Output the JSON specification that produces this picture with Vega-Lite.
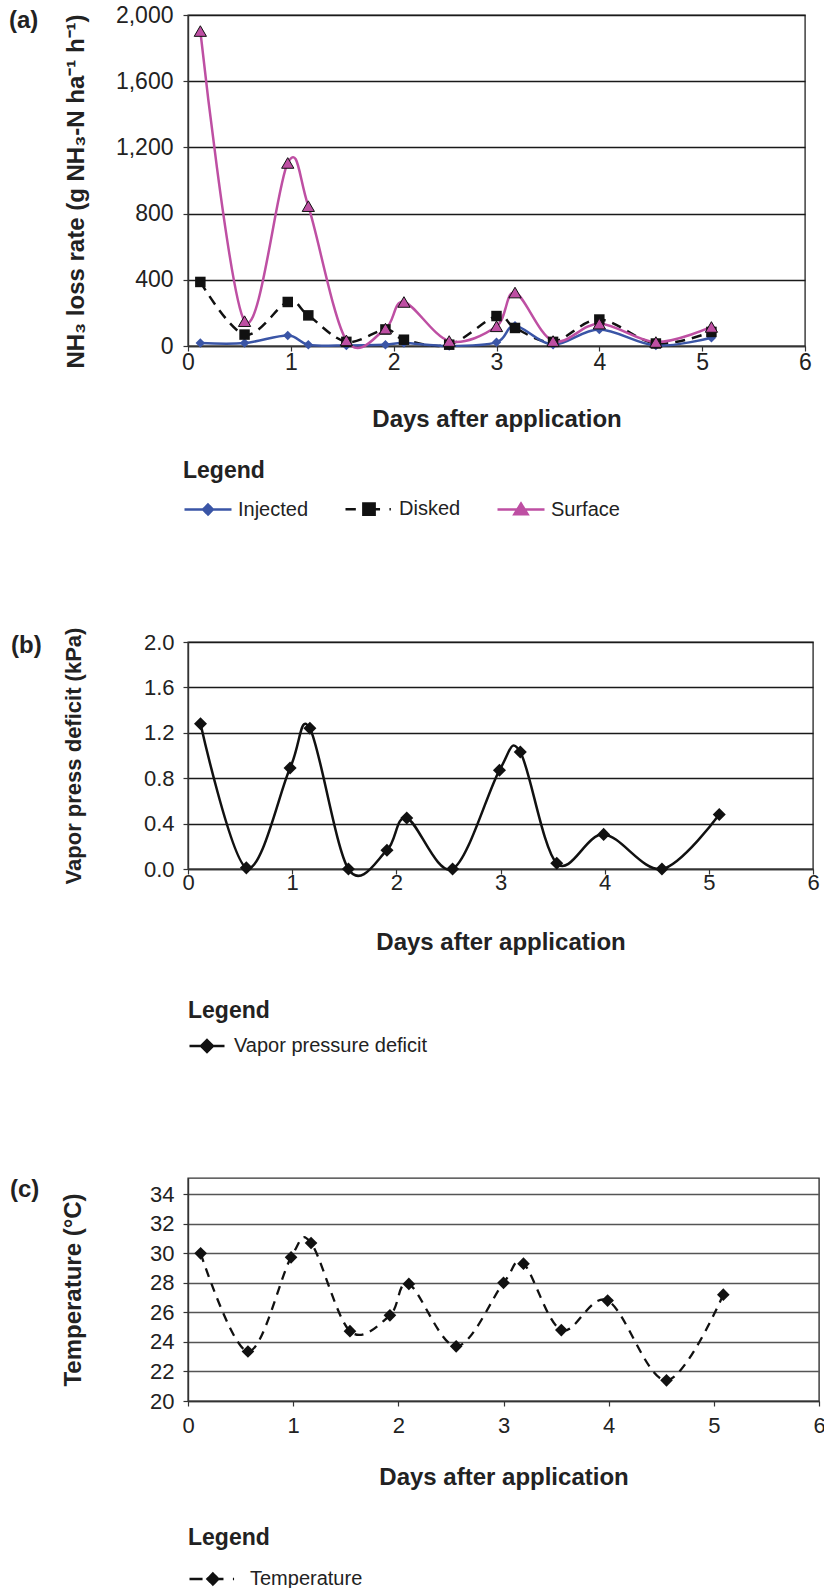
{
  "$schema": "https://vega.github.io/schema/vega-lite/v6.json",
  "padding": {"left": 8, "top": 3, "right": 5, "bottom": 0},
  "background": "white",
  "config": {
    "font": "Liberation Sans",
    "view": {"stroke": "#333", "strokeWidth": 1.4},
    "axis": {"domainColor": "#333", "tickColor": "#333", "labelColor": "#222", "titleColor": "#222", "labelFont": "Liberation Sans", "titleFont": "Liberation Sans", "labelFlush": false, "labelOverlap": false, "domainWidth": 1.4, "tickWidth": 1.2},
    "legend": {"labelFont": "Liberation Sans", "titleFont": "Liberation Sans", "labelLimit": 400}
  },
  "datasets": {
    "nh3": [
      {"series": "Injected", "day": 0.12, "rate": 18},
      {"series": "Injected", "day": 0.55, "rate": 18},
      {"series": "Injected", "day": 0.97, "rate": 63},
      {"series": "Injected", "day": 1.17, "rate": 8},
      {"series": "Injected", "day": 1.54, "rate": 3},
      {"series": "Injected", "day": 1.92, "rate": 8},
      {"series": "Injected", "day": 2.10, "rate": 18},
      {"series": "Injected", "day": 2.54, "rate": 0},
      {"series": "Injected", "day": 3.00, "rate": 22},
      {"series": "Injected", "day": 3.18, "rate": 122},
      {"series": "Injected", "day": 3.55, "rate": 8},
      {"series": "Injected", "day": 4.00, "rate": 100},
      {"series": "Injected", "day": 4.55, "rate": 3},
      {"series": "Injected", "day": 5.09, "rate": 50},
      {"series": "Disked", "day": 0.12, "rate": 387},
      {"series": "Disked", "day": 0.55, "rate": 69},
      {"series": "Disked", "day": 0.97, "rate": 266},
      {"series": "Disked", "day": 1.17, "rate": 185},
      {"series": "Disked", "day": 1.54, "rate": 25},
      {"series": "Disked", "day": 1.92, "rate": 100},
      {"series": "Disked", "day": 2.10, "rate": 38},
      {"series": "Disked", "day": 2.54, "rate": 8},
      {"series": "Disked", "day": 3.00, "rate": 181},
      {"series": "Disked", "day": 3.18, "rate": 109},
      {"series": "Disked", "day": 3.55, "rate": 25},
      {"series": "Disked", "day": 4.00, "rate": 160},
      {"series": "Disked", "day": 4.55, "rate": 15},
      {"series": "Disked", "day": 5.09, "rate": 85},
      {"series": "Surface", "day": 0.12, "rate": 1903},
      {"series": "Surface", "day": 0.55, "rate": 150},
      {"series": "Surface", "day": 0.97, "rate": 1106},
      {"series": "Surface", "day": 1.17, "rate": 845},
      {"series": "Surface", "day": 1.54, "rate": 34},
      {"series": "Surface", "day": 1.92, "rate": 105},
      {"series": "Surface", "day": 2.10, "rate": 266},
      {"series": "Surface", "day": 2.54, "rate": 30},
      {"series": "Surface", "day": 3.00, "rate": 119},
      {"series": "Surface", "day": 3.18, "rate": 323},
      {"series": "Surface", "day": 3.55, "rate": 30},
      {"series": "Surface", "day": 4.00, "rate": 135},
      {"series": "Surface", "day": 4.55, "rate": 24},
      {"series": "Surface", "day": 5.09, "rate": 115}
    ],
    "vpd": [
      {"series": "Vapor pressure deficit", "day": 0.12, "kpa": 1.28},
      {"series": "Vapor pressure deficit", "day": 0.56, "kpa": 0.01},
      {"series": "Vapor pressure deficit", "day": 0.98, "kpa": 0.89},
      {"series": "Vapor pressure deficit", "day": 1.17, "kpa": 1.24},
      {"series": "Vapor pressure deficit", "day": 1.54, "kpa": 0.0},
      {"series": "Vapor pressure deficit", "day": 1.91, "kpa": 0.165},
      {"series": "Vapor pressure deficit", "day": 2.10, "kpa": 0.45},
      {"series": "Vapor pressure deficit", "day": 2.54, "kpa": 0.0},
      {"series": "Vapor pressure deficit", "day": 2.99, "kpa": 0.87},
      {"series": "Vapor pressure deficit", "day": 3.19, "kpa": 1.03},
      {"series": "Vapor pressure deficit", "day": 3.54, "kpa": 0.05},
      {"series": "Vapor pressure deficit", "day": 3.99, "kpa": 0.305},
      {"series": "Vapor pressure deficit", "day": 4.55, "kpa": 0.0},
      {"series": "Vapor pressure deficit", "day": 5.10, "kpa": 0.48}
    ],
    "temp": [
      {"series": "Temperature", "day": 0.12, "celsius": 30.0},
      {"series": "Temperature", "day": 0.57, "celsius": 23.35},
      {"series": "Temperature", "day": 0.98, "celsius": 29.73},
      {"series": "Temperature", "day": 1.17, "celsius": 30.7},
      {"series": "Temperature", "day": 1.54, "celsius": 24.73},
      {"series": "Temperature", "day": 1.92, "celsius": 25.8},
      {"series": "Temperature", "day": 2.10, "celsius": 27.93},
      {"series": "Temperature", "day": 2.55, "celsius": 23.7},
      {"series": "Temperature", "day": 3.00, "celsius": 28.0},
      {"series": "Temperature", "day": 3.19, "celsius": 29.3},
      {"series": "Temperature", "day": 3.55, "celsius": 24.8},
      {"series": "Temperature", "day": 3.99, "celsius": 26.8},
      {"series": "Temperature", "day": 4.55, "celsius": 21.4},
      {"series": "Temperature", "day": 5.09, "celsius": 27.2}
    ]
  },
  "resolve": {
    "scale": {"x": "independent", "y": "independent", "color": "independent"},
    "legend": {"color": "independent"}
  },
  "spacing": 105,
  "vconcat": [
    {
      "width": 617,
      "height": 331,
      "title": {"text": "(a)", "anchor": "start", "frame": "group", "orient": "top", "offset": -41, "dx": -179, "baseline": "middle", "fontSize": 24, "fontWeight": "bold", "font": "Liberation Sans", "color": "#222"},
      "data": {"name": "nh3"},
      "encoding": {
        "x": {"field": "day", "type": "quantitative", "scale": {"domain": [0, 6], "nice": false},
          "axis": {"values": [0, 1, 2, 3, 4, 5, 6], "tickCount": 7, "format": "d", "title": "Days after application", "titleFontSize": 24, "titleFontWeight": "bold", "titlePadding": 33, "labelFontSize": 23, "labelPadding": 0, "tickSize": 5, "grid": false}},
        "y": {"field": "rate", "type": "quantitative", "scale": {"domain": [0, 2000], "nice": false},
          "axis": {"values": [0, 400, 800, 1200, 1600, 2000], "tickCount": 6, "format": ",d", "title": "NH₃ loss rate (g NH₃-N ha⁻¹ h⁻¹)", "titleFontSize": 24, "titleFontWeight": "bold", "titlePadding": 27, "titleY": 176, "labelFontSize": 23, "labelPadding": 10, "tickSize": 5, "grid": true, "gridColor": "#1a1a1a", "gridWidth": 1.3}}
      },
      "layer": [
        {
          "transform": [{"filter": "datum.series === 'Disked'"}],
          "mark": {"type": "line", "interpolate": "cardinal", "strokeWidth": 2.5, "strokeDash": [10, 7]},
          "encoding": {
            "color": {"field": "series", "type": "nominal", "scale": {"domain": ["Injected", "Disked", "Surface"], "range": ["#3A55A6", "#111111", "#BE4FA3"]},
              "legend": {"orient": "none", "legendX": -5, "legendY": 445, "direction": "horizontal", "title": "Legend", "titleFontSize": 23, "titleFontWeight": "bold", "titleColor": "#222", "titlePadding": 1, "labelFontSize": 20, "labelColor": "#222", "labelOffset": 5, "columnPadding": 31, "symbolSize": 2209,
                "encode": {"symbols": {"update": {
                  "shape": {"signal": "datum.value === 'Injected' ? 'M-1,0H1M0,-0.21L0.21,0L0,0.21L-0.21,0Z' : datum.value === 'Disked' ? 'M-1,0H-0.56M-0.24,-0.24H0.24V0.24H-0.24ZM0.24,0H0.47M0.87,0H0.93' : 'M-1,0H1M0,-0.25L0.28,0.2L-0.28,0.2Z'"},
                  "size": {"value": 2209},
                  "fill": {"signal": "datum.value === 'Injected' ? '#3A55A6' : datum.value === 'Disked' ? '#111111' : '#BE4FA3'"},
                  "stroke": {"signal": "datum.value === 'Injected' ? '#3A55A6' : datum.value === 'Disked' ? '#111111' : '#BE4FA3'"},
                  "strokeWidth": {"value": 2.5},
                  "strokeDash": {"value": [1, 0]},
                  "opacity": {"value": 1}
                }}}}}
          }
        },
        {
          "transform": [{"filter": "datum.series !== 'Disked'"}],
          "mark": {"type": "line", "interpolate": "cardinal", "strokeWidth": 2.5},
          "encoding": {
            "color": {"field": "series", "type": "nominal", "legend": null}
          }
        },
        {
          "transform": [{"filter": "datum.series === 'Injected'"}],
          "mark": {"type": "point", "filled": true, "opacity": 1, "shape": "diamond", "size": 90},
          "encoding": {
            "color": {"field": "series", "type": "nominal", "legend": null}
          }
        },
        {
          "transform": [{"filter": "datum.series === 'Disked'"}],
          "mark": {"type": "point", "filled": true, "opacity": 1, "shape": "square", "size": 110},
          "encoding": {
            "color": {"field": "series", "type": "nominal", "legend": null}
          }
        },
        {
          "transform": [{"filter": "datum.series === 'Surface'"}],
          "mark": {"type": "point", "filled": true, "opacity": 1, "shape": "triangle-up", "size": 150, "stroke": "#111111", "strokeWidth": 1},
          "encoding": {
            "fill": {"field": "series", "type": "nominal", "scale": {"domain": ["Surface"], "range": ["#BE4FA3"]}, "legend": null}
          }
        }
      ]
    },
    {
      "resolve": {
        "scale": {"x": "independent", "y": "independent", "color": "independent"},
        "legend": {"color": "independent"}
      },
      "spacing": 119,
      "vconcat": [
        {
          "width": 625,
          "height": 227,
          "title": {"text": "(b)", "anchor": "start", "frame": "group", "orient": "top", "offset": -43, "dx": -177, "baseline": "middle", "fontSize": 24, "fontWeight": "bold", "font": "Liberation Sans", "color": "#222"},
          "data": {"name": "vpd"},
          "encoding": {
            "x": {"field": "day", "type": "quantitative", "scale": {"domain": [0, 6], "nice": false},
              "axis": {"values": [0, 1, 2, 3, 4, 5, 6], "tickCount": 7, "format": "d", "title": "Days after application", "titleFontSize": 24, "titleFontWeight": "bold", "titlePadding": 37, "labelFontSize": 22, "labelPadding": -2, "tickSize": 5, "grid": false}},
            "y": {"field": "kpa", "type": "quantitative", "scale": {"domain": [0, 2], "nice": false},
              "axis": {"values": [0, 0.4, 0.8, 1.2, 1.6, 2.0], "tickCount": 6, "format": ".1f", "title": "Vapor press deficit (kPa)", "titleFontSize": 22, "titleFontWeight": "bold", "titlePadding": 58, "labelFontSize": 22, "labelPadding": 9, "tickSize": 5, "grid": true, "gridColor": "#1a1a1a", "gridWidth": 1.3}}
          },
          "layer": [
            {
              "mark": {"type": "line", "interpolate": "cardinal", "strokeWidth": 2.5},
              "encoding": {
                "color": {"field": "series", "type": "nominal", "scale": {"range": ["#111111"]},
                  "legend": {"orient": "none", "legendX": 0, "legendY": 358, "direction": "horizontal", "title": "Legend", "titleFontSize": 23, "titleFontWeight": "bold", "titleColor": "#222", "titlePadding": 4, "labelFontSize": 20, "labelColor": "#222", "labelOffset": 8, "symbolSize": 1225,
                    "encode": {"symbols": {"update": {
                      "shape": {"value": "M-1,0H1M0,-0.34L0.34,0L0,0.34L-0.34,0Z"},
                      "size": {"value": 1225},
                      "fill": {"value": "#111111"},
                      "stroke": {"value": "#111111"},
                      "strokeWidth": {"value": 2.5},
                      "opacity": {"value": 1}
                    }}}}}
              }
            },
            {
              "mark": {"type": "point", "filled": true, "opacity": 1, "shape": "diamond", "size": 170, "color": "#111111"}
            }
          ]
        },
        {
          "width": 631,
          "height": 223,
          "title": {"text": "(c)", "anchor": "start", "frame": "group", "orient": "top", "offset": -36, "dx": -178, "baseline": "middle", "fontSize": 24, "fontWeight": "bold", "font": "Liberation Sans", "color": "#222"},
          "data": {"name": "temp"},
          "encoding": {
            "x": {"field": "day", "type": "quantitative", "scale": {"domain": [0, 6], "nice": false},
              "axis": {"values": [0, 1, 2, 3, 4, 5, 6], "tickCount": 7, "format": "d", "title": "Days after application", "titleFontSize": 24, "titleFontWeight": "bold", "titlePadding": 29, "labelFontSize": 22, "labelPadding": 9, "tickSize": 5, "grid": false}},
            "y": {"field": "celsius", "type": "quantitative", "scale": {"domain": [20, 35.1], "nice": false, "zero": false},
              "axis": {"values": [20, 22, 24, 26, 28, 30, 32, 34], "tickCount": 8, "format": "d", "title": "Temperature (°C)", "titleFontSize": 24, "titleFontWeight": "bold", "titlePadding": 64, "labelFontSize": 22, "labelPadding": 9, "tickSize": 5, "grid": true, "gridColor": "#555555", "gridWidth": 1.6}}
          },
          "layer": [
            {
              "mark": {"type": "line", "interpolate": "cardinal", "strokeWidth": 2.3, "strokeDash": [9, 7]},
              "encoding": {
                "color": {"field": "series", "type": "nominal", "scale": {"range": ["#111111"]},
                  "legend": {"orient": "none", "legendX": 0, "legendY": 349, "direction": "horizontal", "title": "Legend", "titleFontSize": 23, "titleFontWeight": "bold", "titleColor": "#222", "titlePadding": 5, "labelFontSize": 20, "labelColor": "#222", "labelOffset": 14, "symbolSize": 2025,
                    "encode": {"symbols": {"update": {
                      "shape": {"value": "M-1,0H-0.42M0.04,-0.24L0.28,0L0.04,0.24L-0.2,0ZM0.28,0H0.51M0.93,0H0.98"},
                      "size": {"value": 2025},
                      "fill": {"value": "#111111"},
                      "stroke": {"value": "#111111"},
                      "strokeWidth": {"value": 2.5},
                      "strokeDash": {"value": [1, 0]},
                      "opacity": {"value": 1}
                    }}}}}
              }
            },
            {
              "mark": {"type": "point", "filled": true, "opacity": 1, "shape": "diamond", "size": 160, "color": "#111111"}
            }
          ]
        }
      ]
    }
  ]
}
